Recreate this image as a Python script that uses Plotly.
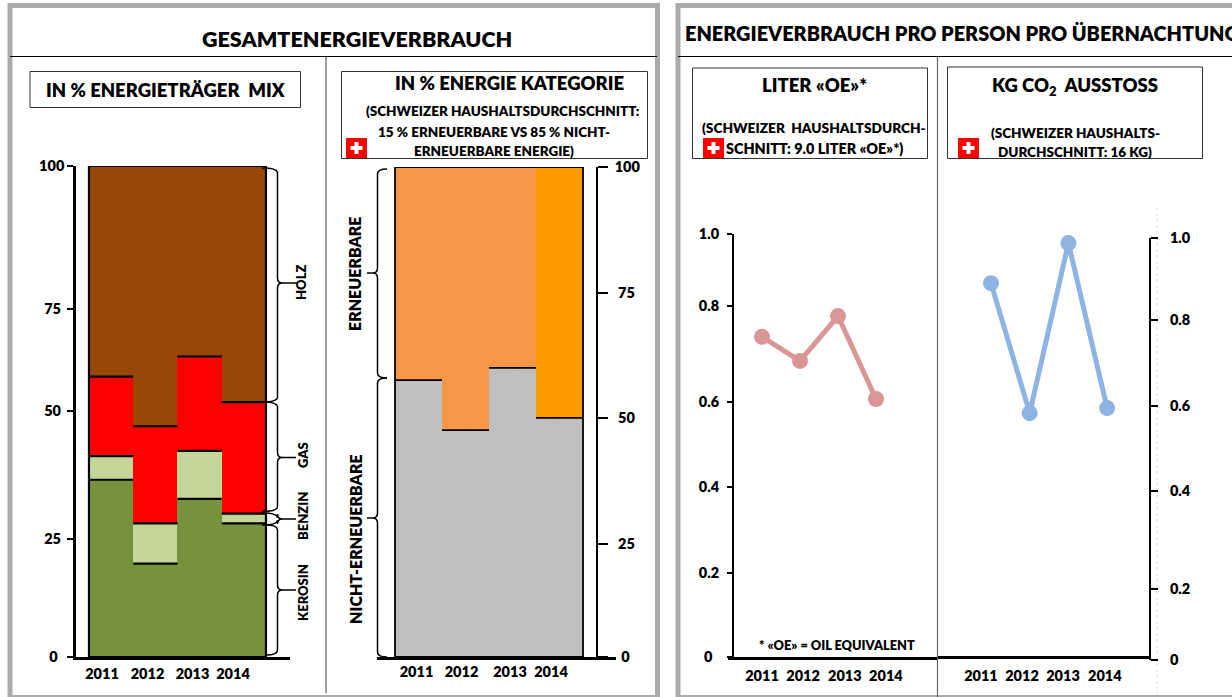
import plotly.graph_objects as go

W, H = 1232, 697
FONT = "Lato"
WT = 800

# ---- data ----
years = [2011, 2012, 2013, 2014]
kerosin = [36.1, 19.0, 32.2, 27.2]
benzin = [4.8, 8.2, 9.8, 2.0]
gas = [16.2, 19.8, 19.2, 22.7]
holz = [42.9, 53.0, 38.8, 48.1]
nicht_erneuerbare = [56.5, 46.3, 59.0, 48.8]
erneuerbare = [43.5, 53.7, 41.0, 51.2]
liter_oe = [0.757, 0.700, 0.806, 0.610]
kg_co2 = [0.893, 0.585, 0.988, 0.597]

pct_labels = ["0", "25", "50", "75", "100"]
dec_labels = ["0", "0.2", "0.4", "0.6", "0.8", "1.0"]
# the source's ticks are hand placed and not evenly spaced
pct_ticks_left = [0, 24.0, 50.1, 70.9, 100]
pct_ticks_right = [0, 23.1, 48.8, 74.3, 100]
dec_ticks_left = [0, 0.199, 0.402, 0.603, 0.83, 1]
dec_ticks_right = [0, 0.168, 0.40, 0.602, 0.806, 1]
year_ticks_a = [2010.794, 2011.822, 2012.84, 2013.755]
year_ticks_b = [2010.957, 2011.915, 2012.947, 2013.819]
year_ticks_c = [2011, 2012.08, 2013.18, 2014.26]
year_ticks_d = [2010.74, 2011.80, 2012.86, 2013.94]

BROWN, RED, PALE, GREEN = "#974706", "#FF0000", "#C4D79B", "#76923C"
ORANGE, ORANGE2, GREY = "#F79646", "#FF9900", "#BFBFBF"
PINK, BLUE = "#D99694", "#8DB4E2"


def fx(p):
    return p / W


def fy(p):
    return 1 - p / H


fig = go.Figure()

# ---- stacked bars ----
for name, vals, col in [("Kerosin", kerosin, GREEN), ("Benzin", benzin, PALE),
                        ("Gas", gas, RED), ("Holz", holz, BROWN)]:
    fig.add_trace(go.Bar(x=years, y=vals, name=name, marker=dict(color=col, line_width=0),
                         xaxis="x", yaxis="y"))
for name, vals, col in [("Nicht-erneuerbare", nicht_erneuerbare, GREY),
                        ("Erneuerbare", erneuerbare, [ORANGE, ORANGE, ORANGE, ORANGE2])]:
    fig.add_trace(go.Bar(x=years, y=vals, name=name, marker=dict(color=col, line_width=0),
                         xaxis="x2", yaxis="y2"))


def cumulate(*series):
    out, run = [], [0] * len(series[0])
    for s in series:
        run = [a + b for a, b in zip(run, s)]
        out.append(run)
    return out


def steps(ys, xa, ya, thick):
    fig.add_trace(go.Scatter(
        x=years, y=ys, mode="markers", xaxis=xa, yaxis=ya, hoverinfo="skip",
        marker=dict(size=1, color="black"),
        error_x=dict(type="constant", value=0.5, width=0, thickness=thick, color="black")))


for level in cumulate(kerosin, benzin, gas)[:3]:
    steps(level, "x", "y", 2.2)
steps(nicht_erneuerbare, "x2", "y2", 1.8)

# ---- lines ----
fig.add_trace(go.Scatter(x=years, y=liter_oe, mode="lines+markers", xaxis="x3", yaxis="y3",
                         cliponaxis=False,
                         line=dict(color=PINK, width=5), marker=dict(color=PINK, size=16)))
fig.add_trace(go.Scatter(x=years, y=kg_co2, mode="lines+markers", xaxis="x4", yaxis="y4",
                         cliponaxis=False,
                         line=dict(color=BLUE, width=5), marker=dict(color=BLUE, size=16)))

# ---- axes ----
tf = dict(family=FONT, size=14.5, color="black", weight=WT)
nb = "\u00a0"


def xaxis(px0, px1, r0, r1, ticks, anchor, standoff, **kw):
    return dict(domain=[fx(px0), fx(px1)], range=[r0, r1], tickmode="array", tickvals=ticks,
                ticktext=[str(y) for y in years], tickfont=tf, ticks="", showgrid=False,
                zeroline=False, showline=True, linecolor="black", linewidth=3, automargin=False,
                anchor=anchor, ticklabelstandoff=standoff, **kw)


def yaxis(py0, py1, r1, ticks, labels, **kw):
    base = dict(domain=[fy(py0), fy(py1)], range=[0, r1], tickmode="array", tickvals=ticks,
                ticktext=labels, tickfont=tf, showgrid=False, zeroline=False, showline=True,
                automargin=False, linecolor="black", ticks="outside", tickcolor="black",
                tickwidth=1.5)
    base.update(kw)
    return base


def pad_after(labels):
    widest = max(len(s) for s in labels)
    return [s + nb * (widest - len(s)) for s in labels]


def pad_before(labels):
    widest = max(len(s) for s in labels)
    return [nb * (widest - len(s)) + s for s in labels]


fig.update_layout(
    xaxis=xaxis(76, 290, 2010.207, 2015.043, year_ticks_a, "y", 2),
    yaxis=yaxis(657, 166, 100, pct_ticks_left, pad_after(pct_labels),
                anchor="x", linewidth=2.5, ticklen=6, ticklabelstandoff=0),
    xaxis2=xaxis(377, 616, 2010.117, 2015.202, year_ticks_b, "y2", 0),
    yaxis2=yaxis(657, 167, 100, pct_ticks_right, pad_before(pct_labels),
                 anchor="free", position=fx(597), side="right", linewidth=1.5, ticklen=10,
                 ticklabelstandoff=4),
    xaxis3=xaxis(728, 937, 2011 - 34 / 38, 2011 + 175 / 38, year_ticks_c, "y3", 4),
    yaxis3=yaxis(657, 234, 1, dec_ticks_left, [s + nb * 2 if s == "0" else s for s in dec_labels],
                 anchor="free", position=fx(733), linewidth=2, ticklen=5, ticklabelstandoff=5),
    xaxis4=xaxis(937, 1150, 2011 - 54 / 38.7, 2011 + 159 / 38.7, year_ticks_d, "free", 5,
                 position=fy(657)),
    yaxis4=yaxis(660, 238, 1, dec_ticks_right, dec_labels,
                 anchor="free", position=fx(1150), side="right", linewidth=2, ticklen=7,
                 ticklabelstandoff=9),
    barmode="stack", bargap=0, showlegend=False, width=W, height=H,
    margin=dict(l=0, r=0, t=0, b=0), plot_bgcolor="rgba(0,0,0,0)", paper_bgcolor="white",
)

# ---- frames, braces, flags ----
shapes = []


def rect(x0, y0, x1, y1, color="black", width=1, fill=None, layer="above"):
    shapes.append(dict(type="rect", xref="paper", yref="paper", x0=fx(x0), x1=fx(x1),
                       y0=fy(y0), y1=fy(y1), line=dict(color=color, width=width),
                       fillcolor=fill or "rgba(0,0,0,0)", layer=layer))


def line(x0, y0, x1, y1, color="black", width=1, dash=None, layer="above"):
    shapes.append(dict(type="line", xref="paper", yref="paper", x0=fx(x0), x1=fx(x1),
                       y0=fy(y0), y1=fy(y1), line=dict(color=color, width=width, dash=dash),
                       layer=layer))


def brace(spine, y0, y1, mid, tip, start):
    s = 1 if tip > spine else -1
    c = 5
    pts = [("M", start, y0), ("Q", spine, y0, spine, y0 + c), ("L", spine, mid - 5),
           ("Q", spine, mid, spine + s * 5, mid), ("L", tip, mid), ("L", spine + s * 5, mid),
           ("Q", spine, mid, spine, mid + 5), ("L", spine, y1 - c),
           ("Q", spine, y1, start, y1)]
    d = ""
    for p in pts:
        nums = p[1:]
        d += p[0] + " " + " ".join(
            f"{fx(v) if i % 2 == 0 else fy(v):.5f}" for i, v in enumerate(nums)) + " "
    shapes.append(dict(type="path", xref="paper", yref="paper", path=d,
                       line=dict(color="black", width=1.5)))


def flag(x0, y0):
    rect(x0, y0, x0 + 21, y0 + 20, color="rgba(0,0,0,0)", width=0, fill="#FF0000")
    rect(x0 + 4.5, y0 + 8, x0 + 16.5, y0 + 12, color="rgba(0,0,0,0)", width=0, fill="white")
    rect(x0 + 8.5, y0 + 4, x0 + 12.5, y0 + 16, color="rgba(0,0,0,0)", width=0, fill="white")


PANEL = "#ABABAB"
rect(10, 5.5, 657.5, 697.5, PANEL, 5)
rect(678, 5.5, 1245, 697.5, PANEL, 5)
line(10, 56.5, 657, 56.5)
line(678, 56.5, 1232, 56.5)
line(326, 57, 326, 693, "#808080", 1.5)
line(937.5, 57, 937.5, 697, "#666666", 1.2)

rect(30, 71.5, 300.5, 107.5, "#333333", 1)
rect(341.5, 71.5, 647.5, 158.5, "#333333", 1)
rect(692.5, 68, 927.5, 158.5, "#333333", 1)
rect(947.5, 67, 1202.5, 158.5, "#333333", 1)

flag(346, 138)
flag(703, 138)
flag(958, 138)

# bar outlines
shapes.append(dict(type="rect", xref="x", yref="y", x0=years[0] - 0.5, x1=years[-1] + 0.5, y0=0,
                   y1=100, line=dict(color="black", width=2.2)))
shapes.append(dict(type="rect", xref="x2", yref="y2", x0=years[0] - 0.5, x1=years[-1] + 0.5, y0=0,
                   y1=100, line=dict(color="black", width=1.8)))

brace(277.5, 168, 402, 283, 297, 262)
brace(277.5, 402, 511.5, 457.5, 296, 262)
brace(277.5, 513, 525, 519, 296, 262)
brace(277.5, 525, 655, 590, 296, 266)
brace(377.5, 169, 378, 273, 367, 387)
brace(377.5, 378, 657, 518, 367, 387)

line(1157, 207, 1157, 697, "#DDDDDD", 1, "dot", "below")

# ---- text ----
ann = []


def text(x, y, s, size, angle=0, anchor="center"):
    ann.append(dict(x=fx(x), y=fy(y), xref="paper", yref="paper", text=s, showarrow=False,
                    xanchor=anchor, yanchor="middle", textangle=angle,
                    font=dict(family=FONT, size=size, color="black", weight=WT)))


text(357, 39, "GESAMTENERGIEVERBRAUCH", 21.5)
text(683, 33, "ENERGIEVERBRAUCH PRO PERSON PRO ÜBERNACHTUNG", 19.9, anchor="left")
text(165, 90, "IN % ENERGIETRÄGER  MIX", 18.5)
text(509, 83, "IN % ENERGIE KATEGORIE", 18.5)
text(502, 111, "(SCHWEIZER HAUSHALTSDURCHSCHNITT:", 13.5)
text(494, 132, "15 % ERNEUERBARE VS 85 % NICHT-", 13.5)
text(494, 151, "ERNEUERBARE ENERGIE)", 13.5)
text(814, 85, "LITER «OE»*", 18.5)
text(814, 127, "(SCHWEIZER  HAUSHALTSDURCH-", 13.7)
text(814, 149, "SCHNITT: 9.0 LITER «OE»*)", 14.4)
text(1075, 87, "KG CO<sub>2</sub>  AUSSTOSS", 18.5)
text(1075, 133, "(SCHWEIZER HAUSHALTS-", 13.5)
text(1075, 152, "DURCHSCHNITT: 16 KG)", 13.5)
text(837, 645, "* «OE» = OIL EQUIVALENT", 12.8)
text(301, 282, "HOLZ", 13, -90)
text(303, 455, "GAS", 13, -90)
text(303, 516, "BENZIN", 13, -90)
text(303, 593, "KEROSIN", 13, -90)
text(355, 274, "ERNEUERBARE", 16, -90)
text(355, 539, "NICHT-ERNEUERBARE", 16, -90)

fig.update_layout(shapes=shapes, annotations=ann)

fig.write_html("out.html", config=dict(displayModeBar=False),
               post_script="document.body.style.margin='0';document.body.style.overflow='hidden';")
